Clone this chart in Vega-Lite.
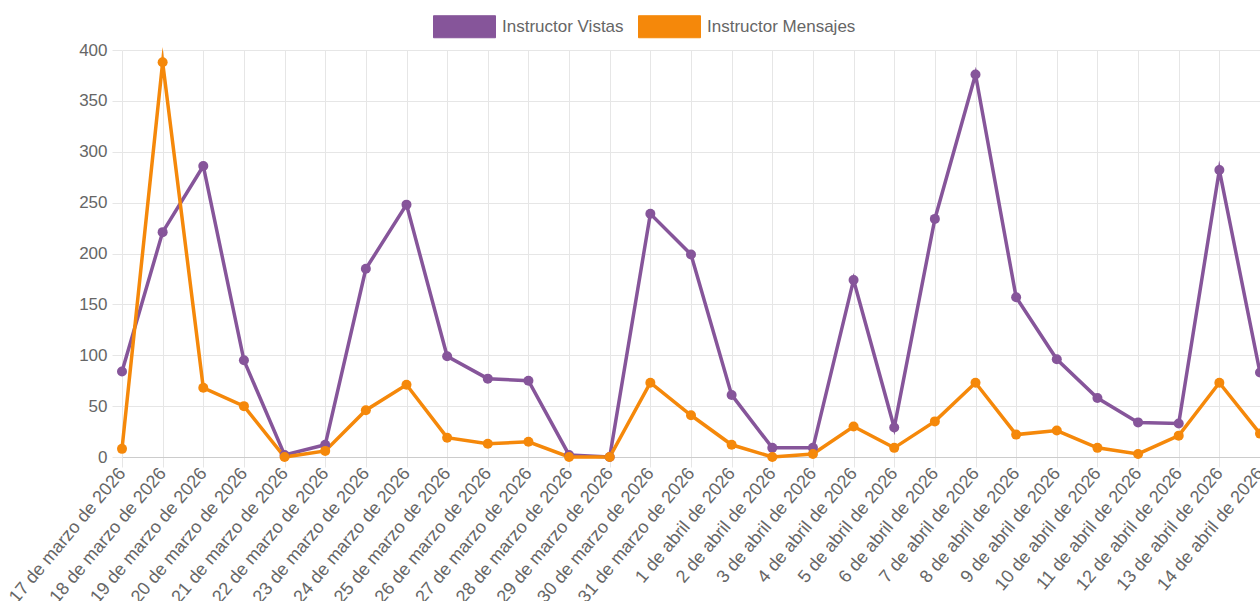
{
  "$schema": "https://vega.github.io/schema/vega-lite/v6.json",
  "autosize": "none",
  "width": 1138,
  "height": 407,
  "padding": {"left": 122, "top": 50, "right": 0, "bottom": 144},
  "background": "white",
  "config": {"view": {"stroke": null}, "font": "Liberation Sans"},
  "datasets": {
    "fechas": [
      {"fecha": "17 de marzo de 2026", "vistas": 84, "mensajes": 8},
      {"fecha": "18 de marzo de 2026", "vistas": 221, "mensajes": 388},
      {"fecha": "19 de marzo de 2026", "vistas": 286, "mensajes": 68},
      {"fecha": "20 de marzo de 2026", "vistas": 95, "mensajes": 50},
      {"fecha": "21 de marzo de 2026", "vistas": 2, "mensajes": 0},
      {"fecha": "22 de marzo de 2026", "vistas": 12, "mensajes": 6},
      {"fecha": "23 de marzo de 2026", "vistas": 185, "mensajes": 46},
      {"fecha": "24 de marzo de 2026", "vistas": 248, "mensajes": 71},
      {"fecha": "25 de marzo de 2026", "vistas": 99, "mensajes": 19},
      {"fecha": "26 de marzo de 2026", "vistas": 77, "mensajes": 13},
      {"fecha": "27 de marzo de 2026", "vistas": 75, "mensajes": 15},
      {"fecha": "28 de marzo de 2026", "vistas": 2, "mensajes": 0},
      {"fecha": "29 de marzo de 2026", "vistas": 0, "mensajes": 0},
      {"fecha": "30 de marzo de 2026", "vistas": 239, "mensajes": 73},
      {"fecha": "31 de marzo de 2026", "vistas": 199, "mensajes": 41},
      {"fecha": "1 de abril de 2026", "vistas": 61, "mensajes": 12},
      {"fecha": "2 de abril de 2026", "vistas": 9, "mensajes": 0},
      {"fecha": "3 de abril de 2026", "vistas": 9, "mensajes": 3},
      {"fecha": "4 de abril de 2026", "vistas": 174, "mensajes": 30},
      {"fecha": "5 de abril de 2026", "vistas": 29, "mensajes": 9},
      {"fecha": "6 de abril de 2026", "vistas": 234, "mensajes": 35},
      {"fecha": "7 de abril de 2026", "vistas": 376, "mensajes": 73},
      {"fecha": "8 de abril de 2026", "vistas": 157, "mensajes": 22},
      {"fecha": "9 de abril de 2026", "vistas": 96, "mensajes": 26},
      {"fecha": "10 de abril de 2026", "vistas": 58, "mensajes": 9},
      {"fecha": "11 de abril de 2026", "vistas": 34, "mensajes": 3},
      {"fecha": "12 de abril de 2026", "vistas": 33, "mensajes": 21},
      {"fecha": "13 de abril de 2026", "vistas": 282, "mensajes": 73},
      {"fecha": "14 de abril de 2026", "vistas": 83, "mensajes": 23}
    ]
  },
  "data": {"name": "fechas"},
  "transform": [
    {"fold": ["vistas", "mensajes"], "as": ["clave", "valor"]},
    {"lookup": "clave", "from": {"data": {"values": [{"clave": "vistas", "serie": "Instructor Vistas"}, {"clave": "mensajes", "serie": "Instructor Mensajes"}]}, "key": "clave", "fields": ["serie"]}}
  ],
  "encoding": {
    "x": {
      "field": "fecha",
      "type": "ordinal",
      "sort": null,
      "scale": {"type": "point", "padding": 0},
      "axis": {
        "title": null,
        "labelAngle": -50,
        "labelFontSize": 18,
        "labelColor": "#666666",
        "labelPadding": 3,
        "tickSize": 10,
        "tickColor": "#e6e6e6",
        "domainColor": "#cccccc",
        "grid": true,
        "gridColor": "#e6e6e6",
        "labelOverlap": false
      }
    },
    "y": {
      "field": "valor",
      "type": "quantitative",
      "scale": {"domain": [0, 400], "nice": false},
      "axis": {
        "title": null,
        "values": [0, 50, 100, 150, 200, 250, 300, 350, 400],
        "labelFontSize": 17,
        "labelColor": "#666666",
        "labelPadding": 5,
        "tickSize": 10,
        "tickColor": "#e6e6e6",
        "domain": false,
        "grid": true,
        "gridColor": "#e6e6e6"
      }
    },
    "color": {
      "field": "serie",
      "type": "nominal",
      "scale": {"domain": ["Instructor Vistas", "Instructor Mensajes"], "range": ["#86559a", "#f5880a"]},
      "legend": {
        "orient": "none",
        "direction": "horizontal",
        "legendX": 311,
        "legendY": -55,
        "title": null,
        "symbolType": "M-1,-0.355H1V0.355H-1Z",
        "symbolSize": 3844,
        "symbolStrokeWidth": 1,
        "labelFontSize": 17,
        "labelColor": "#666666",
        "labelOffset": 6,
        "columnPadding": 12,
        "encode": {"symbols": {"update": {"fill": {"scale": "color", "field": "value"}, "stroke": {"scale": "color", "field": "value"}, "opacity": {"value": 1}, "fillOpacity": {"value": 1}}}}
      }
    }
  },
  "layer": [
    {"mark": {"type": "line", "strokeWidth": 3.5, "strokeJoin": "miter", "strokeMiterLimit": 10}},
    {"mark": {"type": "point", "filled": true, "size": 100, "opacity": 1}}
  ]
}
